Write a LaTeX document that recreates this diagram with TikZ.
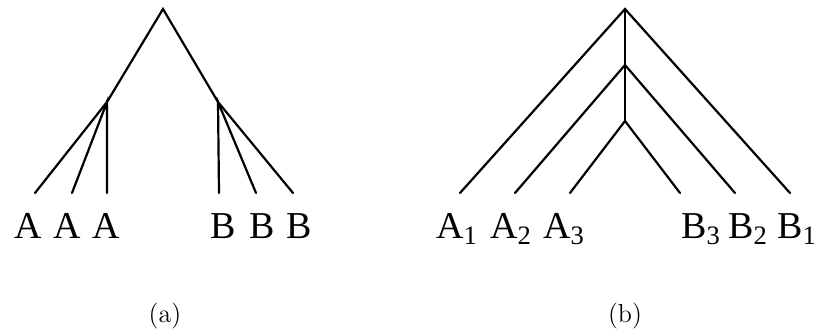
\documentclass[tikz,border=0pt]{standalone}
\usepackage{fontspec}
\newfontfamily\leaffont{Liberation Serif}
\usepackage{tikz}

\begin{document}
\begin{tikzpicture}[x=0.5pt, y=-0.5pt,
    branch/.style={draw, line width=1.1pt, line cap=round},
    leaf/.style={anchor=base, inner sep=0pt, font=\leaffont\fontsize{19}{21}\selectfont},
    caption/.style={anchor=base, inner sep=0pt, font=\fontsize{13}{15}\selectfont}]
    \useasboundingbox (0,0) rectangle (820,336);

    % (a) two flat groups
    \coordinate (rootA) at (163,9);
    \coordinate (midA) at (107,102);
    \coordinate (midB) at (218,102);
    \foreach \n/\x in {a1/35, a2/72, a3/107, b1/219, b2/256, b3/293}
        \coordinate (\n) at (\x,193);

    \path [branch] (a1) -- (midA) -- (rootA) -- (midB) -- (b3);
    \path [branch] (a2) -- (midA) -- (a3);
    \path [branch] (b1) -- (midB) -- (b2);

    \foreach \n/\x/\t in {la1/28/A, la2/67/A, la3/106/A, lb1/223/B, lb2/262/B, lb3/299/B}
        \node [leaf] (\n) at (\x,239) {\t};

    % (b) nested pairs
    \coordinate (top) at (625,9);
    \coordinate (second) at (625,65);
    \coordinate (third) at (625,121);
    \foreach \n/\x in {p1/460, p2/515, p3/570, q3/680, q2/735, q1/790}
        \coordinate (\n) at (\x,193);

    \path [branch] (p1) -- (top) -- (q1);
    \path [branch] (p2) -- (second) -- (q2);
    \path [branch] (p3) -- (third) -- (q3);
    \path [branch] (top) -- (third);

    \node [leaf] (lp1) at (457,239) {A\textsubscript{1}};
    \node [leaf] (lp2) at (511,239) {A\textsubscript{2}};
    \node [leaf] (lp3) at (564,239) {A\textsubscript{3}};
    \node [leaf] (lq3) at (701,239) {B\textsubscript{3}};
    \node [leaf] (lq2) at (748,239) {B\textsubscript{2}};
    \node [leaf] (lq1) at (797,239) {B\textsubscript{1}};

    \node [caption] (capa) at (165,323) {(a)};
    \node [caption] (capb) at (625,323) {(b)};
\end{tikzpicture}
\end{document}
